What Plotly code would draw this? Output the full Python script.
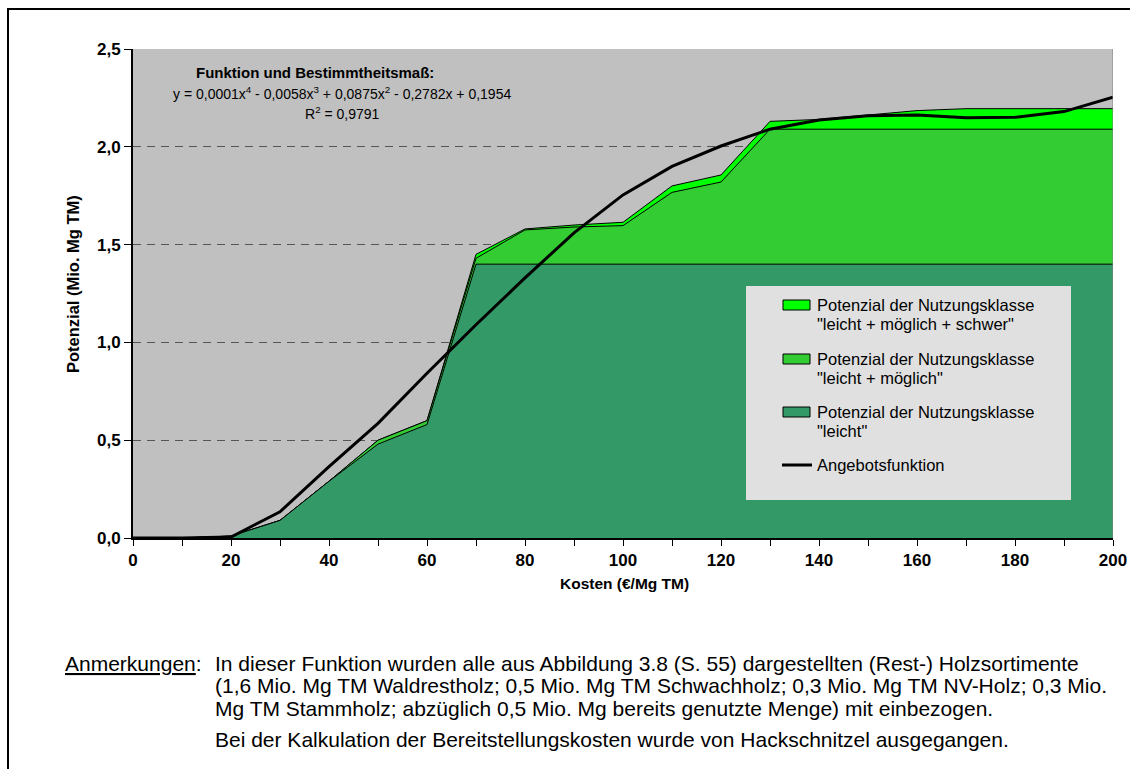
import plotly.graph_objects as go

# ---- data ----
kosten = [0, 10, 20, 30, 40, 50, 60, 70, 80, 90, 100, 110, 120, 130, 140, 150, 160, 170, 180, 190, 200]
leicht = [0, 0, 0.01, 0.09, 0.29, 0.48, 0.58, 1.40, 1.40, 1.40, 1.40, 1.40, 1.40, 1.40, 1.40, 1.40, 1.40, 1.40, 1.40, 1.40, 1.40]
leicht_moeglich = [0, 0, 0.01, 0.09, 0.29, 0.50, 0.60, 1.43, 1.575, 1.59, 1.597, 1.767, 1.82, 2.09, 2.09, 2.09, 2.09, 2.09, 2.09, 2.09, 2.09]
leicht_moeglich_schwer = [0, 0, 0.01, 0.09, 0.29, 0.50, 0.60, 1.45, 1.58, 1.60, 1.614, 1.80, 1.856, 2.13, 2.14, 2.163, 2.185, 2.195, 2.195, 2.195, 2.195]
angebot = [0, 0, 0.005, 0.134, 0.365, 0.586, 0.842, 1.09, 1.33, 1.56, 1.754, 1.90, 2.004, 2.09, 2.137, 2.159, 2.163, 2.149, 2.151, 2.18, 2.253]

legend_labels = [
    ['Potenzial der Nutzungsklasse', '"leicht + möglich + schwer"'],
    ['Potenzial der Nutzungsklasse', '"leicht + möglich"'],
    ['Potenzial der Nutzungsklasse', '"leicht"'],
    ['Angebotsfunktion'],
]
colors = ['#00FF00', '#33CC33', '#339966']

x_ticks = list(range(0, 201, 20))
x_ticktext = [str(v) for v in x_ticks]
y_ticks = [0, 0.5, 1.0, 1.5, 2.0, 2.5]
y_ticktext = ['0,0', '0,5', '1,0', '1,5', '2,0', '2,5']

x_title = 'Kosten (€/Mg TM)'
y_title = 'Potenzial (Mio. Mg TM)'

notes = [
    'In dieser Funktion wurden alle aus Abbildung 3.8 (S. 55) dargestellten (Rest-) Holzsortimente',
    '(1,6 Mio. Mg TM Waldrestholz; 0,5 Mio. Mg TM Schwachholz; 0,3 Mio. Mg TM NV-Holz; 0,3 Mio.',
    'Mg TM Stammholz; abzüglich 0,5 Mio. Mg bereits genutzte Menge) mit einbezogen.',
    'Bei der Kalkulation der Bereitstellungskosten wurde von Hackschnitzel ausgegangen.',
]

FONT = 'Arial, Liberation Sans, sans-serif'

fig = go.Figure()
series = [leicht_moeglich_schwer, leicht_moeglich, leicht]
for i, ys in enumerate(series):
    fig.add_trace(go.Scatter(
        x=kosten, y=ys, mode='lines', fill='tozeroy',
        fillcolor=colors[i], line=dict(color='black', width=1),
        name=' '.join(legend_labels[i]), showlegend=False,
    ))
fig.add_trace(go.Scatter(
    x=kosten, y=angebot, mode='lines', line=dict(color='black', width=3),
    name=legend_labels[3][0], showlegend=False,
))

W, H = 1130, 769
L, R, T, B = 133, 17, 49, 231
pw, ph = W - L - R, H - T - B

def px(xp):
    return (xp - L) / pw

def py(yp):
    return (H - B - yp) / ph

shapes = [
    # legend background
    dict(type='rect', xref='paper', yref='paper', x0=px(746), x1=px(1071), y0=py(500), y1=py(286),
         fillcolor='#E0E0E0', line=dict(width=0), layer='above'),
    # right plot edge
    dict(type='line', xref='x', yref='y', x0=200, x1=200, y0=0, y1=2.5,
         line=dict(color='#808080', width=1), layer='above'),
    # outer frame
    dict(type='rect', xref='paper', yref='paper', x0=px(8), x1=px(1200), y0=py(900), y1=py(9),
         line=dict(color='black', width=2), fillcolor='rgba(0,0,0,0)'),
]

note_y = [663, 686, 708, 739]
annotations = [
    dict(xref='paper', yref='paper', x=px(315), y=py(72), xanchor='center', yanchor='middle',
         text='<b>Funktion und Bestimmtheitsmaß:</b>', showarrow=False, font=dict(size=15)),
    dict(xref='paper', yref='paper', x=px(342), y=py(93), xanchor='center', yanchor='middle',
         text='y = 0,0001x<sup>4</sup> - 0,0058x<sup>3</sup> + 0,0875x<sup>2</sup> - 0,2782x + 0,1954',
         showarrow=False, font=dict(size=14)),
    dict(xref='paper', yref='paper', x=px(342), y=py(113), xanchor='center', yanchor='middle',
         text='R<sup>2</sup> = 0,9791', showarrow=False, font=dict(size=14)),
    dict(xref='paper', yref='paper', x=px(624), y=py(583), xanchor='center', yanchor='middle',
         text='<b>%s</b>' % x_title, showarrow=False, font=dict(size=15.5)),
    dict(xref='paper', yref='paper', x=px(73), y=py(284), xanchor='center', yanchor='middle',
         text='<b>%s</b>' % y_title, textangle=-90, showarrow=False, font=dict(size=16.5)),
    dict(xref='paper', yref='paper', x=px(204), y=py(note_y[0]), xanchor='right', yanchor='middle',
         text='<u>Anmerkungen</u>:', showarrow=False, font=dict(size=21)),
]
for ln, yy in zip(notes, note_y):
    annotations.append(dict(xref='paper', yref='paper', x=px(213), y=py(yy), xanchor='left',
                            yanchor='middle', text=ln, showarrow=False, font=dict(size=21)))

# manual legend (swatches + texts)
leg_first_y = [305, 359, 412, 465]
leg_line_gap = 18.5
for i, labels in enumerate(legend_labels):
    y0 = leg_first_y[i]
    if i < 3:
        shapes.append(dict(type='rect', xref='paper', yref='paper',
                           x0=px(783), x1=px(810), y0=py(y0 + 5), y1=py(y0 - 5),
                           fillcolor=colors[i], line=dict(color='black', width=1), layer='above'))
    else:
        shapes.append(dict(type='line', xref='paper', yref='paper',
                           x0=px(782), x1=px(812), y0=py(y0), y1=py(y0),
                           line=dict(color='black', width=3), layer='above'))
    for j, t in enumerate(labels):
        annotations.append(dict(xref='paper', yref='paper', x=px(815), y=py(y0 + j * leg_line_gap),
                                xanchor='left', yanchor='middle', text=t, showarrow=False,
                                font=dict(size=16.5)))

fig.update_layout(
    width=W, height=H,
    margin=dict(l=L, r=R, t=T, b=B, autoexpand=False),
    paper_bgcolor='white', plot_bgcolor='#C0C0C0',
    separators=',.',
    font=dict(family=FONT, color='black', size=13),
    showlegend=False,
    xaxis=dict(
        range=[0, 200], tickvals=x_ticks, ticktext=x_ticktext,
        ticks='outside', ticklen=6, tickcolor='black', tickwidth=1,
        minor=dict(ticks='outside', dtick=10, tick0=0, ticklen=6, tickcolor='black', tickwidth=1, showgrid=False),
        showline=True, linecolor='black', linewidth=2,
        showgrid=False, zeroline=False, automargin=False,
        tickfont=dict(size=17, family=FONT, weight='bold'),
    ),
    yaxis=dict(
        range=[0, 2.5], tickvals=y_ticks, ticktext=y_ticktext,
        ticks='outside', ticklen=7, tickcolor='black', tickwidth=1,
        showline=True, linecolor='black', linewidth=2,
        showgrid=True, gridcolor='#555555', gridwidth=1, griddash='8px,6px',
        zeroline=False, automargin=False,
        tickfont=dict(size=17, family=FONT, weight='bold'),
    ),
    shapes=shapes,
    annotations=annotations,
)

fig.write_html('out.html')
